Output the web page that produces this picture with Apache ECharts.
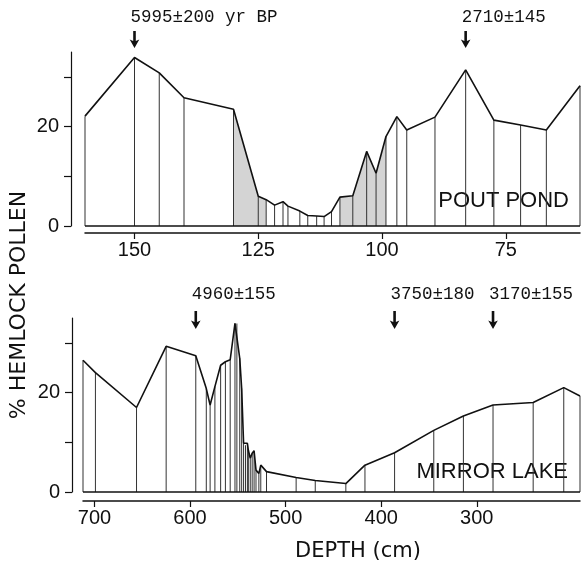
<!DOCTYPE html>
<html>
<head>
<meta charset="utf-8">
<script src="https://cdn.jsdelivr.net/npm/echarts@6/dist/echarts.min.js"></script>
<style>
html,body{margin:0;padding:0;background:#fff;}
#c{width:583px;height:563px;}
</style>
</head>
<body>
<div id="c"></div>
<script>
// ---- data ----
const poutDepth = [160, 150, 145, 140, 130, 125, 123.4, 121.7, 120, 119, 116.6, 115, 113.2, 111.7, 110.2, 108.5, 105.9, 103.1, 101.2, 99.2, 97, 95, 89.3, 83.1, 77.4, 72, 66.8, 60];
const poutPct   = [22.1, 33.9, 30.8, 25.8, 23.5, 6.0, 5.3, 4.2, 4.9, 4.0, 3.0, 2.1, 2.0, 1.9, 2.9, 5.8, 6.1, 15.0, 10.6, 18.0, 22.0, 19.3, 21.9, 31.4, 21.3, 20.3, 19.3, 28.2];
const poutShadeRanges = [[123.4, 130], [99.2, 108.5]];

const mirrorDepth = [712, 699, 656, 625, 594, 583, 579, 574, 568, 563, 558, 553, 551, 548, 546, 544, 542, 540, 539, 537, 535, 533, 531, 528, 526, 520, 489, 469, 437, 417, 386, 345, 314, 283, 241, 209, 192];
const mirrorPct   = [26.5, 24.0, 17.0, 29.3, 27.4, 20.8, 17.5, 21.2, 25.5, 26.2, 26.6, 33.9, 33.9, 26.9, 20.8, 9.8, 9.4, 9.8, 8.4, 6.8, 7.8, 8.3, 4.4, 3.7, 5.4, 4.1, 2.9, 2.3, 1.7, 5.4, 7.9, 12.4, 15.3, 17.5, 18.0, 21.0, 19.3];

const poutTicks = [150, 125, 100, 75];
const mirrorTicks = [700, 600, 500, 400, 300];
const pctTicks = [0, 10, 20, 30];
const pctLabels = [0, 20];

const topDates = ['5995±200 yr BP', '2710±145'];
const topDateDepths = [150, 83.1];
const botDates = ['4960±155', '3750±180', '3170±155'];
const botDateDepths = [594, 386, 283];

// ---- build ----
const pairs = (d, v) => d.map((x, i) => [x, v[i]]);
const poutData = pairs(poutDepth, poutPct);
const mirrorData = pairs(mirrorDepth, mirrorPct);

const INK = '#111';
const tickFont = {fontFamily: 'Liberation Sans, Arial, sans-serif', fontSize: 20, color: INK};

function xAxisCfg(gi, min, max, ticks, offset) {
  return {
    type: 'value', gridIndex: gi, min: min, max: max, inverse: true, offset: offset,
    axisLine: {show: true, onZero: false, lineStyle: {color: INK, width: 1.5}},
    axisTick: {show: true, inside: false, length: 6, customValues: ticks, lineStyle: {color: INK, width: 1.2}},
    axisLabel: Object.assign({customValues: ticks, margin: 7}, tickFont),
    splitLine: {show: false}
  };
}
function yAxisCfg(gi, offset) {
  return {
    type: 'value', gridIndex: gi, min: 0, max: 35, offset: offset,
    axisLine: {show: true, onZero: false, lineStyle: {color: INK, width: 1.2}},
    axisTick: {show: true, length: 7, customValues: pctTicks, lineStyle: {color: INK, width: 1.2}},
    axisLabel: Object.assign({customValues: pctLabels, margin: 12}, tickFont),
    splitLine: {show: false}
  };
}
function curve(data, gi) {
  return {
    type: 'line', xAxisIndex: gi, yAxisIndex: gi, data: data, z: 4,
    showSymbol: false, symbol: 'none', smooth: false, clip: false,
    lineStyle: {color: INK, width: 1.6},
    markLine: {silent: true, symbol: 'none', label: {show: false},
      lineStyle: {color: INK, width: 1.5, type: 'solid'}, data: [{yAxis: 0}]}
  };
}
function sticks(data, gi) {
  return {
    type: 'bar', xAxisIndex: gi, yAxisIndex: gi, data: data, z: 3,
    barWidth: 1, clip: false, itemStyle: {color: '#333'}
  };
}
const shadeSeries = poutShadeRanges.map(r => ({
  type: 'line', xAxisIndex: 0, yAxisIndex: 0, z: 2,
  data: poutData.filter(p => p[0] >= r[0] && p[0] <= r[1]),
  showSymbol: false, symbol: 'none', lineStyle: {width: 0},
  areaStyle: {color: '#d4d4d4', opacity: 1}
}));

const chart = echarts.init(document.getElementById('c'), null, {renderer: 'canvas'});
chart.setOption({
  animation: false,
  backgroundColor: '#fff',
  grid: [
    {left: 85, right: 3, top: 52, height: 174},
    {left: 83, right: 3, top: 318, height: 174}
  ],
  xAxis: [xAxisCfg(0, 60, 160, poutTicks, 7), xAxisCfg(1, 192, 712, mirrorTicks, 9)],
  yAxis: [yAxisCfg(0, 14), yAxisCfg(1, 11)],
  series: [
    ...shadeSeries,
    sticks(poutData, 0), curve(poutData, 0),
    sticks(mirrorData, 1), curve(mirrorData, 1)
  ]
});

// ---- annotations & labels ----
const g = [];
function arrow(x, top, bottom) {
  return {type: 'polygon', silent: true, shape: {points: [
    [x - 1.3, top], [x + 1.3, top], [x + 1.3, bottom - 7], [x + 4.8, bottom - 8.5],
    [x, bottom], [x - 4.8, bottom - 8.5], [x - 1.3, bottom - 7]
  ]}, style: {fill: INK}};
}
const dateFont = '17.5px "Liberation Mono", "DejaVu Sans Mono", monospace';
function addDates(labels, depths, gi, textY, aTop, aBot) {
  labels.forEach((t, i) => {
    const x = chart.convertToPixel({xAxisIndex: gi}, depths[i]);
    g.push(arrow(x, aTop, aBot));
    g.push({type: 'text', silent: true, x: x - 4, y: textY,
      style: {text: t, font: dateFont, fill: INK, textAlign: 'left', textVerticalAlign: 'middle'}});
  });
}
addDates(topDates, topDateDepths, 0, 17, 31, 48);
addDates(botDates, botDateDepths, 1, 294.5, 311, 329);

const nameFont = '22px "Liberation Sans", Arial, sans-serif';
g.push({type: 'text', silent: true, x: 569, y: 201,
  style: {text: 'POUT POND', font: nameFont, fill: INK, textAlign: 'right', textVerticalAlign: 'middle'}});
g.push({type: 'text', silent: true, x: 568, y: 472,
  style: {text: 'MIRROR LAKE', font: nameFont, fill: INK, textAlign: 'right', textVerticalAlign: 'middle'}});
g.push({type: 'text', silent: true, x: 358, y: 552,
  style: {text: 'DEPTH (cm)', font: '21px "DejaVu Sans", sans-serif', fill: INK, textAlign: 'center', textVerticalAlign: 'middle'}});
g.push({type: 'text', silent: true, x: 19, y: 305, rotation: Math.PI / 2,
  style: {text: '% HEMLOCK POLLEN', font: '22px "DejaVu Sans", sans-serif', fill: INK, textAlign: 'center', textVerticalAlign: 'middle'}});

chart.setOption({graphic: g});
</script>
</body>
</html>
